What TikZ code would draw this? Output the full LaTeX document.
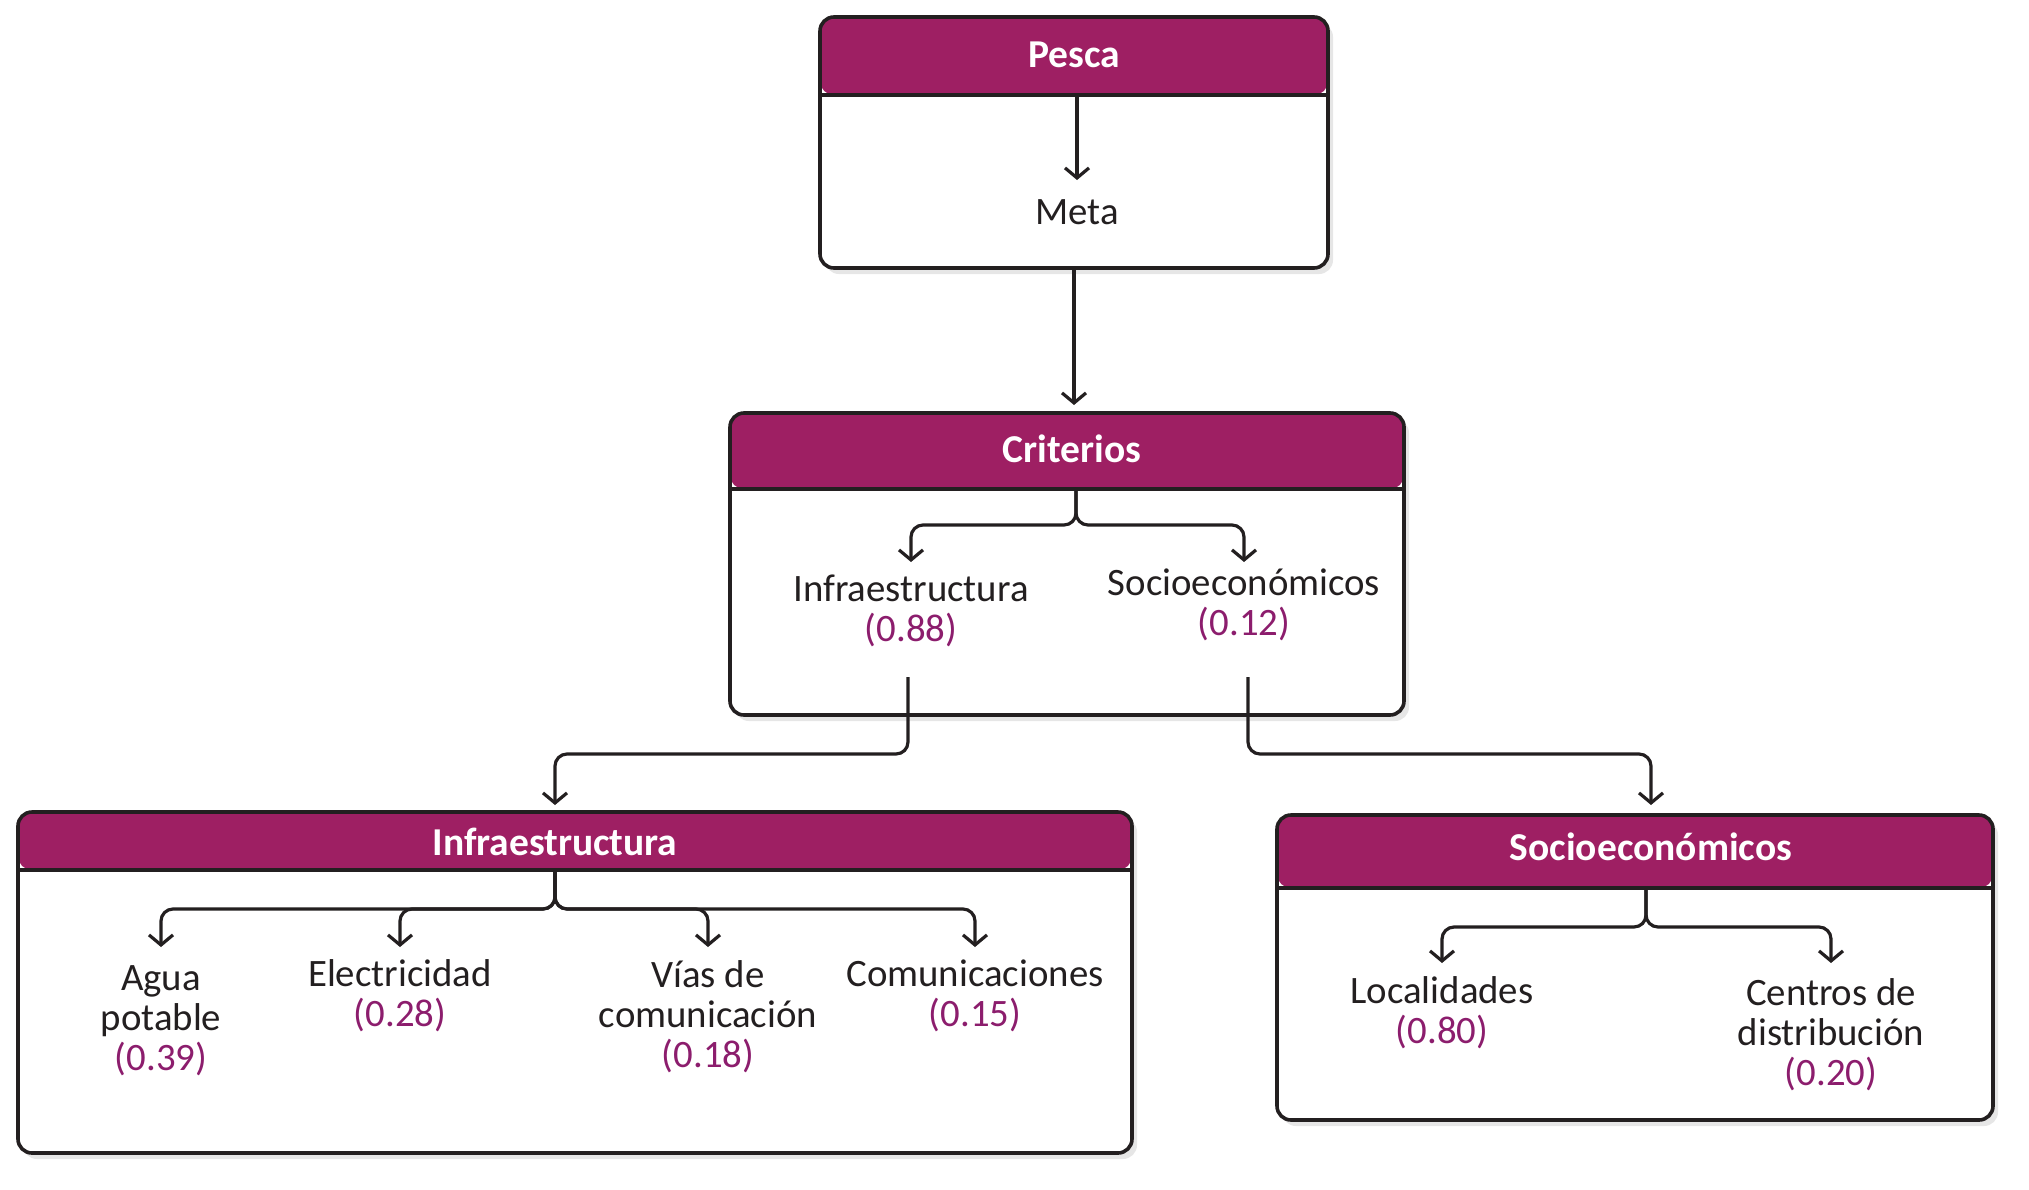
\documentclass[tikz,border=0pt]{standalone}
\usepackage{fontspec}
\setmainfont{Carlito}
\usetikzlibrary{arrows.meta,positioning,shadows}

\definecolor{hdrmag}{HTML}{9E1F63}
\definecolor{valmag}{HTML}{8C1D6D}
\definecolor{ink}{HTML}{231F20}

\newcommand{\wt}[1]{\textcolor{valmag}{(#1)}}

\begin{document}
\begin{tikzpicture}[x=1pt, y=-1pt,
    panel/.style={draw=ink, line width=3.6pt, fill=white, rounded corners=14pt,
      drop shadow={shadow xshift=5pt, shadow yshift=-6pt, opacity=0.2},
      path picture={
        \fill[hdrmag] (path picture bounding box.north west)
          rectangle ([yshift=-#1]path picture bounding box.north east);
        \draw[ink, line width=3.6pt] ([yshift=-#1]path picture bounding box.north west)
          -- ([yshift=-#1]path picture bounding box.north east);}},
    hdrtxt/.style={text=white, font=\bfseries\fontsize{39.5}{40}\selectfont},
    item/.style={align=center, text=ink, inner sep=2pt,
                 font=\fontsize{38.8}{40}\selectfont},
    arr/.style={-{Straight Barb[length=10pt,width=24pt]}, draw=ink,
                line width=3.2pt, rounded corners=12pt},
  ]
  \useasboundingbox (0,0) rectangle (2029,1189);

  % boxes
  \node[panel=78pt, minimum width=508pt, minimum height=251pt] (pesca) at (1074,142.5) {};
  \node[panel=76pt, minimum width=674pt, minimum height=302pt] (crit) at (1067,564) {};
  \node[panel=58pt, minimum width=1114pt, minimum height=341pt] (infra) at (575,982.5) {};
  \node[panel=73pt, minimum width=716pt, minimum height=305pt] (socio) at (1635,967.5) {};

  % headers
  \node[hdrtxt] (pescaH) at (1074,55) {Pesca};
  \node[hdrtxt] (critH) at (1072,449) {Criterios};
  \node[hdrtxt] (infraH) at (555,842) {Infraestructura};
  \node[hdrtxt] (socioH) at (1651,847) {Socioeconómicos};

  % items
  \node[item] (meta) at (1077,212) {Meta};
  \node[item] (ci1) at (911,611) {Infraestructura\\\wt{0.88}};
  \node[item] (ci2) at (1244,605) {Socioeconómicos\\\wt{0.12}};
  \node[item] (agua) at (161,1021) {Agua\\potable\\\wt{0.39}};
  \node[item] (elec) at (400,996) {Electricidad\\\wt{0.28}};
  \node[item] (vias) at (708,1017) {Vías de\\comunicación\\\wt{0.18}};
  \node[item] (comu) at (975,996) {Comunicaciones\\\wt{0.15}};
  \node[item] (loc) at (1442,1013) {Localidades\\\wt{0.80}};
  \node[item] (cen) at (1831,1035) {Centros de\\distribución\\\wt{0.20}};

  % stems and tip levels
  \coordinate (pescaS) at (1077,95);
  \coordinate (critS) at (1076,489);
  \coordinate (infraS) at (555,870);
  \coordinate (socioS) at (1646,888);
  \coordinate (ci1B) at (908,677);
  \coordinate (ci2B) at (1248,677);
  \coordinate (metaT) at (0,180);
  \coordinate (critT) at (0,562);
  \coordinate (infraT) at (0,947);
  \coordinate (socioT) at (0,963);
  \coordinate (topT) at (0,405);
  \coordinate (subT) at (0,805);

  \draw[arr] (pescaS) -- (meta.north |- metaT);
  \draw[arr] (pesca.south) -- (pesca.south |- topT);
  \draw[arr] (critS) -- ++(0,36) -| (ci1.north |- critT);
  \draw[arr] (critS) -- ++(0,36) -| (ci2.north |- critT);
  \draw[arr] (ci1B) -- ++(0,77) -| (infraH |- subT);
  \draw[arr] (ci2B) -- ++(0,77) -| (socioH |- subT);
  \foreach \c in {agua,elec,vias,comu}
    \draw[arr] (infraS) -- ++(0,39) -| (\c.north |- infraT);
  \foreach \c in {loc,cen}
    \draw[arr] (socioS) -- ++(0,39) -| (\c.north |- socioT);
\end{tikzpicture}
\end{document}
